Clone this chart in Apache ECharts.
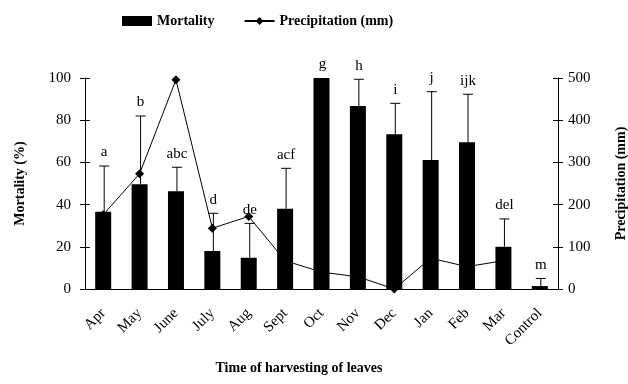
<!DOCTYPE html>
<html lang="en">
<head>
    <meta charset="UTF-8" />
    <title>Mortality and precipitation</title>
    <script src="https://cdn.jsdelivr.net/npm/echarts@6/dist/echarts.min.js"></script>
    <style>
        body { margin: 0; background: #fff; }
        #main { width: 628px; height: 384px; }
    </style>
</head>
<body>
    <div id="main"></div>

    <script>
        // data
        var months = ["Apr", "May", "June", "July", "Aug", "Sept", "Oct", "Nov", "Dec", "Jan", "Feb", "Mar", "Control"];
        var mortality = [36.6, 49.6, 46.3, 18, 14.8, 38, 100, 86.7, 73.3, 61.1, 69.5, 20, 1.4];
        var errorTop = [58.3, 82, 57.7, 35.9, 31.1, 57.2, 100, 99.4, 88, 93.5, 92.3, 33.2, 5];
        var letters = ["a", "b", "abc", "d", "de", "acf", "g", "h", "i", "j", "ijk", "del", "m"];
        var precipitation = [176, 273, 496, 144, 172, 67, 40, 29, 0, 73, 53, 67, null];

        var font = "Liberation Serif";
        var errData = months.map(function (m, i) {
            return [i, mortality[i], errorTop[i]];
        });

        var mCharts = echarts.init(document.querySelector("#main"));

        // second copy of each axis, only to draw the inner half of the crossing ticks
        var tickAxisY = function (pos, max, interval) {
            return {
                type: "value", position: pos, min: 0, max: max, interval: interval,
                axisLine: { show: false },
                axisTick: { show: true, inside: true, length: 5, lineStyle: { color: "#000" } },
                axisLabel: { show: false },
                splitLine: { show: false }
            };
        };

        var option = {
            animation: false,
            textStyle: { fontFamily: font, color: "#000" },
            legend: {
                left: 122, top: 14, padding: 0,
                itemWidth: 30, itemHeight: 10, itemGap: 29,
                textStyle: { fontFamily: font, fontWeight: "bold", fontSize: 14, color: "#000" },
                data: [
                    { name: "Mortality", icon: "rect" },
                    { name: "Precipitation (mm)" }
                ]
            },
            grid: { left: 85, right: 70, top: 78, bottom: 95, outerBoundsMode: "none" },
            xAxis: [
                {
                    type: "category",
                    data: months,
                    name: "Time of harvesting of leaves",
                    nameLocation: "middle",
                    nameGap: 72,
                    nameTextStyle: { fontFamily: font, fontWeight: "bold", fontSize: 14, color: "#000", padding: [0, 45, 0, 0] },
                    axisLine: { lineStyle: { color: "#000", width: 1 } },
                    axisTick: { length: 5, lineStyle: { color: "#000" } },
                    axisLabel: { rotate: 45, fontFamily: font, fontSize: 15, color: "#000", margin: 22 }
                },
                {
                    type: "category", data: months, position: "bottom",
                    axisLine: { show: false },
                    axisTick: { inside: true, length: 5, lineStyle: { color: "#000" } },
                    axisLabel: { show: false }
                }
            ],
            yAxis: [
                {
                    type: "value", min: 0, max: 100, interval: 20,
                    name: "Mortality (%)",
                    nameLocation: "middle", nameGap: 58, nameRotate: 90,
                    nameTextStyle: { fontFamily: font, fontWeight: "bold", fontSize: 14, color: "#000" },
                    axisLine: { show: true, lineStyle: { color: "#000" } },
                    axisTick: { show: true, length: 5, lineStyle: { color: "#000" } },
                    axisLabel: { fontFamily: font, fontSize: 15, color: "#000", margin: 14 },
                    splitLine: { show: false }
                },
                {
                    type: "value", min: 0, max: 500, interval: 100,
                    name: "Precipitation (mm)",
                    nameLocation: "middle", nameGap: 56, nameRotate: 90,
                    nameTextStyle: { fontFamily: font, fontWeight: "bold", fontSize: 14, color: "#000" },
                    axisLine: { show: true, lineStyle: { color: "#000" } },
                    axisTick: { show: true, length: 5, lineStyle: { color: "#000" } },
                    axisLabel: { fontFamily: font, fontSize: 15, color: "#000", margin: 10 },
                    splitLine: { show: false }
                },
                tickAxisY("left", 100, 20),
                tickAxisY("right", 500, 100)
            ],
            series: [
                {
                    name: "Precipitation (mm)",
                    type: "line",
                    yAxisIndex: 1,
                    data: precipitation,
                    symbol: "diamond",
                    symbolSize: 9,
                    itemStyle: { color: "#000" },
                    lineStyle: { color: "#000", width: 1 },
                    z: 1
                },
                {
                    name: "Mortality",
                    type: "bar",
                    data: mortality,
                    barWidth: 16,
                    itemStyle: { color: "#000" },
                    z: 2
                },
                {
                    name: "errors",
                    type: "custom",
                    data: errData,
                    encode: { x: 0, y: [1, 2] },
                    z: 3,
                    renderItem: function (params, api) {
                        var i = api.value(0);
                        var lo = api.coord([i, api.value(1)]);
                        var hi = api.coord([i, api.value(2)]);
                        var x = lo[0] + 1;
                        var children = [];
                        if (hi[1] < lo[1] - 1) {
                            children.push({
                                type: "line",
                                shape: { x1: x, y1: lo[1], x2: x, y2: hi[1] },
                                style: { stroke: "#000", lineWidth: 1 }
                            });
                            children.push({
                                type: "line",
                                shape: { x1: x - 5, y1: hi[1], x2: x + 5, y2: hi[1] },
                                style: { stroke: "#000", lineWidth: 1 }
                            });
                        }
                        children.push({
                            type: "text",
                            style: {
                                text: letters[params.dataIndex],
                                x: x, y: hi[1] - 6,
                                align: "center", verticalAlign: "bottom",
                                font: "15px " + font,
                                fill: "#000"
                            }
                        });
                        return { type: "group", children: children };
                    }
                }
            ]
        };
        mCharts.setOption(option);
    </script>
</body>
</html>
